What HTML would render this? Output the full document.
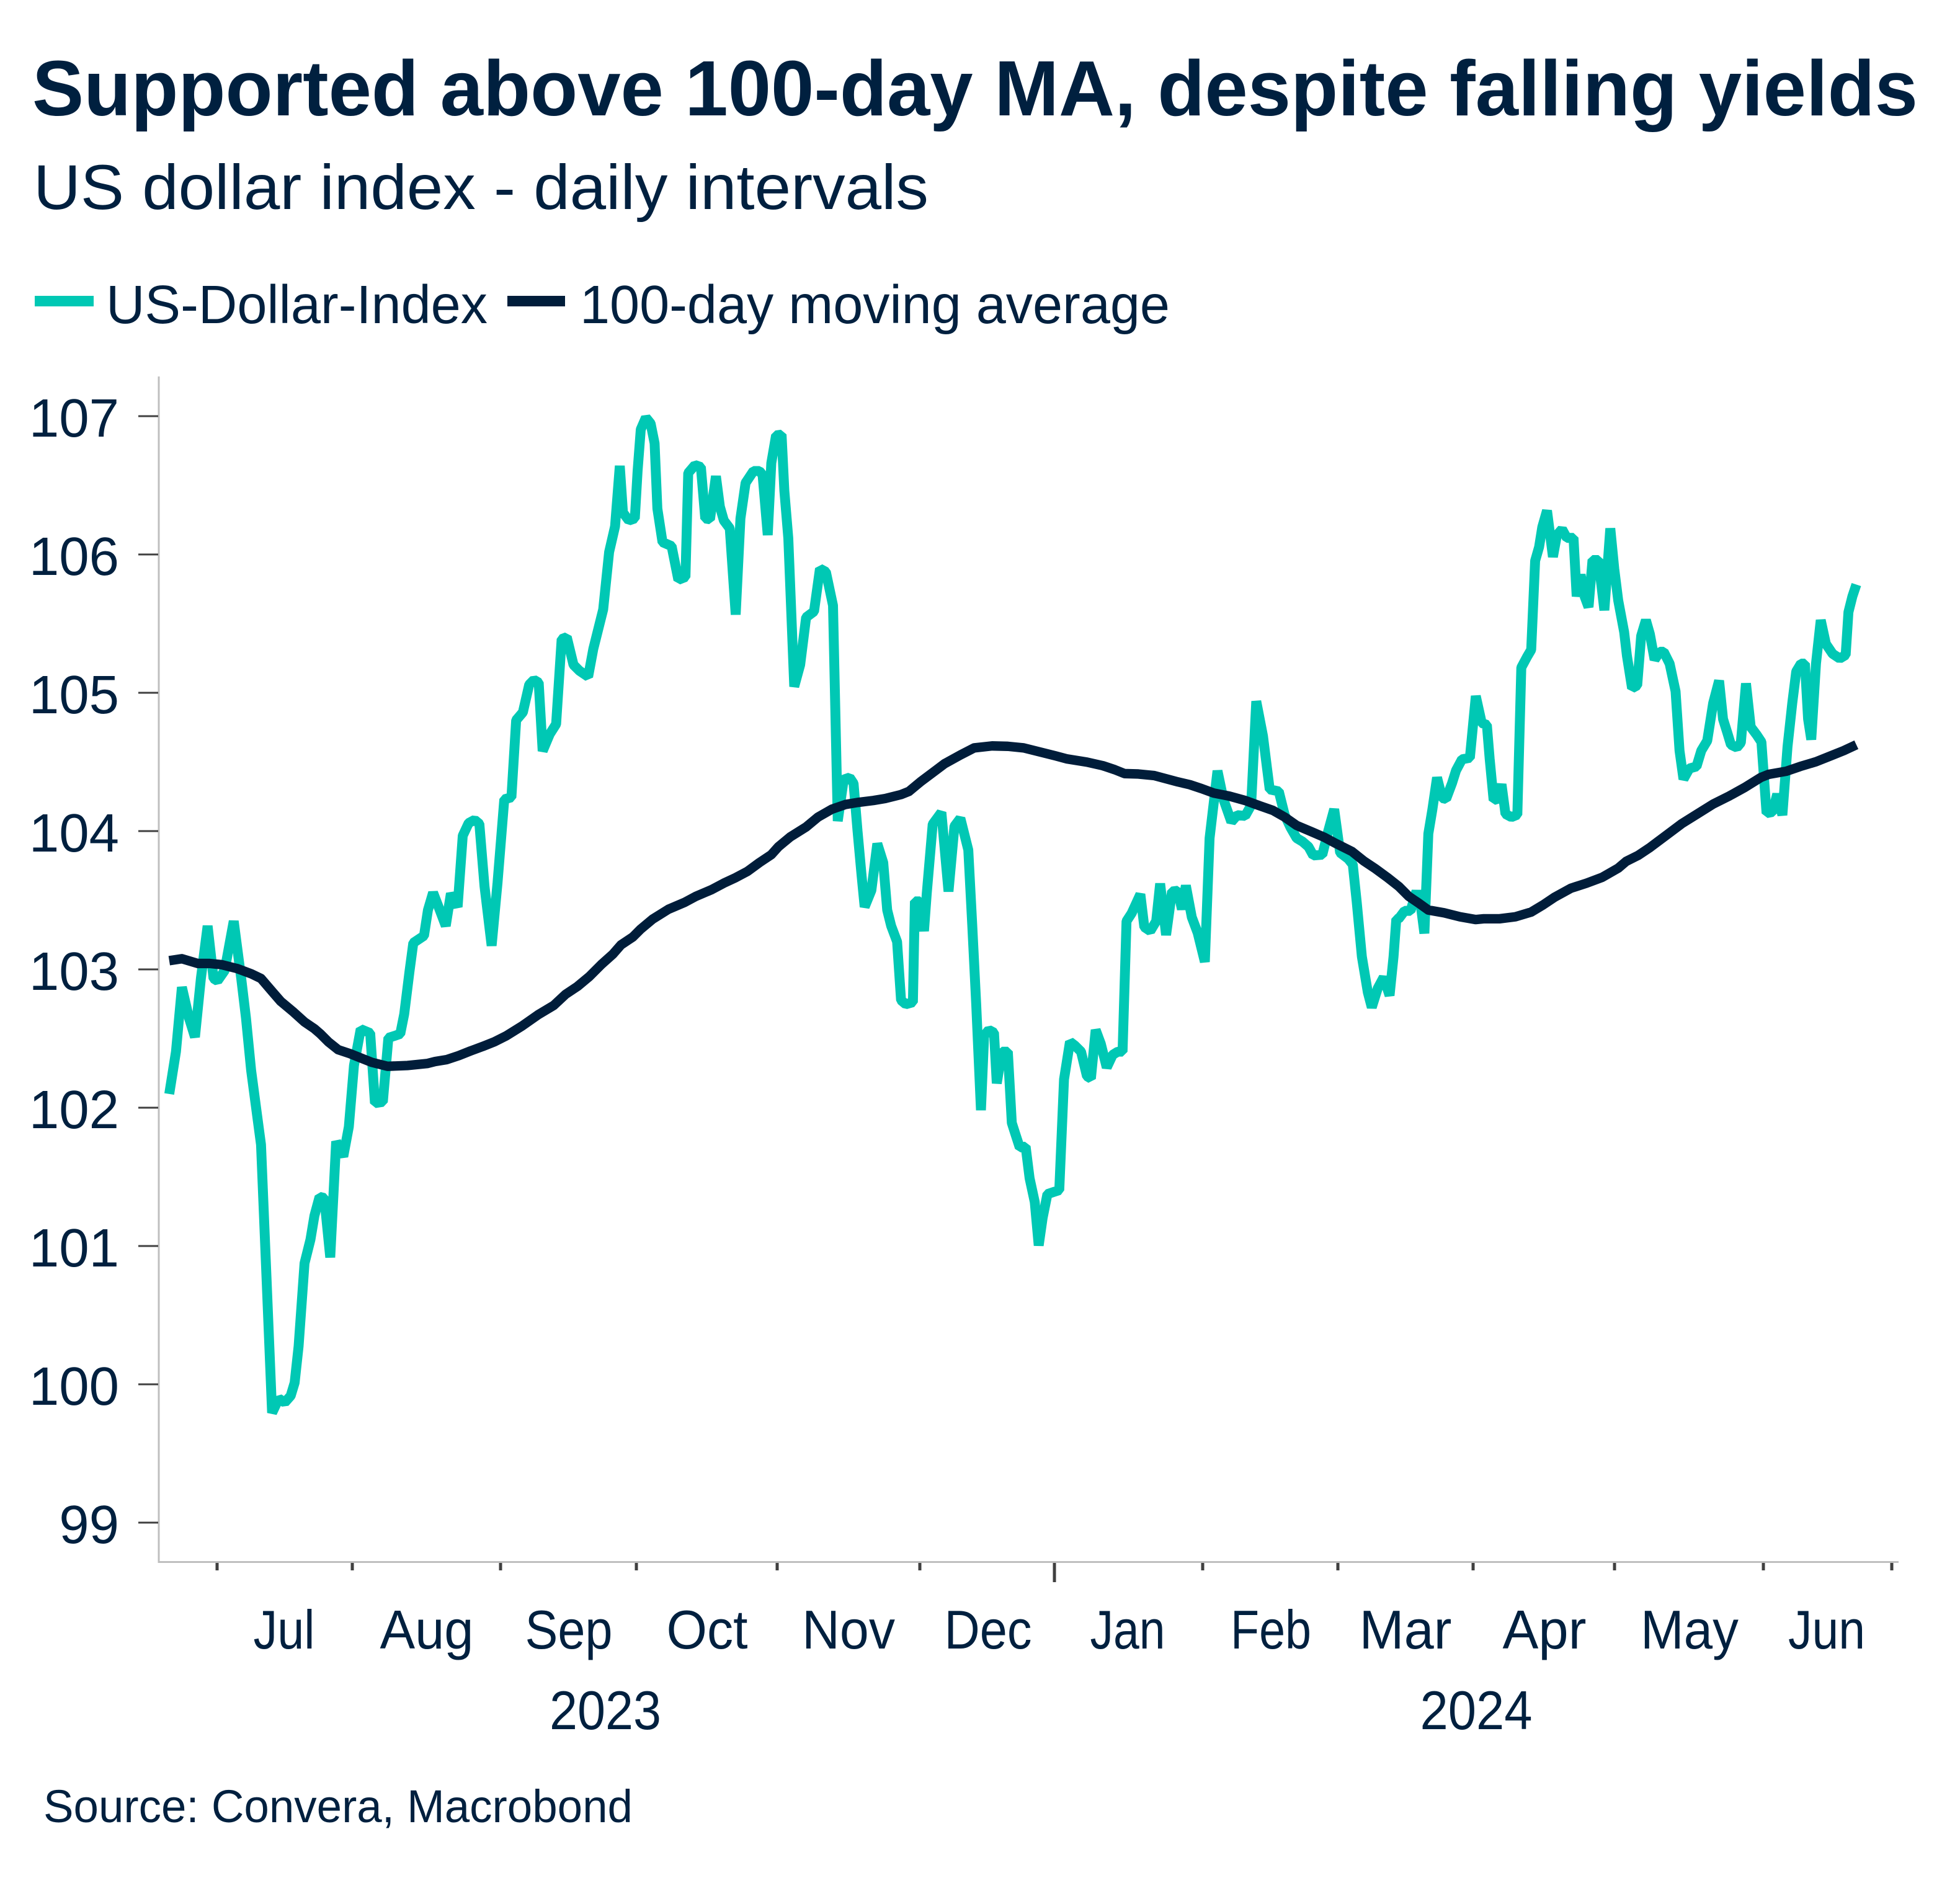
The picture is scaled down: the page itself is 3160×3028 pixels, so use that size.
<!DOCTYPE html>
<html>
<head>
<meta charset="utf-8">
<style>
html,body{margin:0;padding:0;background:#fff;}
svg{display:block;}
text{font-family:"Liberation Sans","DejaVu Sans",sans-serif;fill:#00203F;}
</style>
</head>
<body>
<svg width="3160" height="3028" viewBox="0 0 3160 3028" xmlns="http://www.w3.org/2000/svg">
<rect x="0" y="0" width="3160" height="3028" fill="#ffffff"/>

<!-- Title / subtitle -->
<text x="52" y="186" font-size="126" font-weight="bold" textLength="3040" lengthAdjust="spacingAndGlyphs">Supported above 100-day MA, despite falling yields</text>
<text x="54" y="337" font-size="102" textLength="1443" lengthAdjust="spacingAndGlyphs">US dollar index - daily intervals</text>

<!-- Legend -->
<rect x="56" y="477" width="95" height="17" fill="#00C8B4"/>
<text x="171" y="521" font-size="87" textLength="615" lengthAdjust="spacingAndGlyphs">US-Dollar-Index</text>
<rect x="818" y="477" width="93" height="17" fill="#001D3A"/>
<text x="935" y="521" font-size="87" textLength="951" lengthAdjust="spacingAndGlyphs">100-day moving average</text>

<!-- Axes -->
<line x1="256" y1="607" x2="256" y2="2520" stroke="#BFBFBF" stroke-width="3"/>
<line x1="255" y1="2518.5" x2="3061" y2="2518.5" stroke="#BFBFBF" stroke-width="3"/>

<!-- Y ticks -->
<g stroke="#404040" stroke-width="3">
<line x1="223" y1="671" x2="255" y2="671"/>
<line x1="223" y1="894" x2="255" y2="894"/>
<line x1="223" y1="1117" x2="255" y2="1117"/>
<line x1="223" y1="1340" x2="255" y2="1340"/>
<line x1="223" y1="1563" x2="255" y2="1563"/>
<line x1="223" y1="1786" x2="255" y2="1786"/>
<line x1="223" y1="2009" x2="255" y2="2009"/>
<line x1="223" y1="2232" x2="255" y2="2232"/>
<line x1="223" y1="2455" x2="255" y2="2455"/>
</g>
<g font-size="87" text-anchor="end">
<text x="192" y="704">107</text>
<text x="192" y="927">106</text>
<text x="192" y="1150">105</text>
<text x="192" y="1373">104</text>
<text x="192" y="1596">103</text>
<text x="192" y="1819">102</text>
<text x="192" y="2042">101</text>
<text x="192" y="2265">100</text>
<text x="192" y="2488">99</text>
</g>

<!-- X ticks -->
<g stroke="#404040" stroke-width="5">
<line x1="350" y1="2520" x2="350" y2="2532"/>
<line x1="568" y1="2520" x2="568" y2="2532"/>
<line x1="807" y1="2520" x2="807" y2="2532"/>
<line x1="1026" y1="2520" x2="1026" y2="2532"/>
<line x1="1253" y1="2520" x2="1253" y2="2532"/>
<line x1="1483" y1="2520" x2="1483" y2="2532"/>
<line x1="1700" y1="2520" x2="1700" y2="2551"/>
<line x1="1939" y1="2520" x2="1939" y2="2532"/>
<line x1="2157" y1="2520" x2="2157" y2="2532"/>
<line x1="2375" y1="2520" x2="2375" y2="2532"/>
<line x1="2603" y1="2520" x2="2603" y2="2532"/>
<line x1="2843" y1="2520" x2="2843" y2="2532"/>
<line x1="3050" y1="2520" x2="3050" y2="2532"/>
</g>
<g font-size="88" text-anchor="middle">
<text x="458" y="2658" textLength="99" lengthAdjust="spacingAndGlyphs">Jul</text>
<text x="688" y="2658" textLength="151" lengthAdjust="spacingAndGlyphs">Aug</text>
<text x="917" y="2658" textLength="141" lengthAdjust="spacingAndGlyphs">Sep</text>
<text x="1140" y="2658" textLength="131" lengthAdjust="spacingAndGlyphs">Oct</text>
<text x="1368" y="2658" textLength="150" lengthAdjust="spacingAndGlyphs">Nov</text>
<text x="1593" y="2658" textLength="141" lengthAdjust="spacingAndGlyphs">Dec</text>
<text x="1818" y="2658" textLength="121" lengthAdjust="spacingAndGlyphs">Jan</text>
<text x="2049" y="2658" textLength="130" lengthAdjust="spacingAndGlyphs">Feb</text>
<text x="2266" y="2658" textLength="149" lengthAdjust="spacingAndGlyphs">Mar</text>
<text x="2490" y="2658" textLength="135" lengthAdjust="spacingAndGlyphs">Apr</text>
<text x="2724" y="2658" textLength="158" lengthAdjust="spacingAndGlyphs">May</text>
<text x="2945" y="2658" textLength="124" lengthAdjust="spacingAndGlyphs">Jun</text>
<text x="976" y="2788" textLength="180" lengthAdjust="spacingAndGlyphs">2023</text>
<text x="2380" y="2788" textLength="181" lengthAdjust="spacingAndGlyphs">2024</text>
</g>

<text x="70" y="2938" font-size="74" textLength="950" lengthAdjust="spacingAndGlyphs">Source: Convera, Macrobond</text>

<!-- Series (frame coordinates: origin 255,600; 1.568 units per px) -->
<g transform="translate(255,600) scale(0.637755)" fill="none" stroke-linejoin="bevel">
<polyline stroke="#00C8B4" stroke-width="25" points="
28,1825 45,1718 60,1555 78,1633 93,1681 108,1533 125,1400 140,1533 150,1539 168,1513 191,1388 210,1533 222,1633 235,1765 248,1863 260,1953 288,2631 305,2595 320,2605 335,2588 345,2555 355,2463 370,2253 385,2193 395,2133 408,2085 420,2088 435,2238 450,1945 468,1983 482,1908 495,1753 512,1661 536,1671 548,1848 568,1845 582,1683 598,1678 612,1673 622,1623 635,1518 645,1443
660,1433 672,1425 682,1360 695,1316 710,1355 727,1400 740,1318 757,1352 770,1172 785,1140 800,1132 812,1142 825,1300 843,1450 858,1290 875,1080 893,1075 905,880 922,860 938,790 950,778 962,785 972,958 990,915 1006,890 1020,675 1033,670 1050,740 1065,755 1087,770 1100,700 1125,600 1140,455 1155,390 1167,237 1175,355 1190,375 1205,370 1212,250 1220,145 1233,115 1245,130 1255,180 1262,345 1275,430 1298,440 1315,525 1333,518 1340,255 1357,235 1372,240 1383,370 1395,372 1410,263 1420,340 1430,375 1445,395 1460,613 1472,370 1485,280 1505,250 1520,250 1528,260 1541,412 1550,230 1562,160
1576,158 1583,300 1593,420 1608,795 1623,740 1638,620 1658,605 1673,497 1688,505 1706,590 1718,1135 1733,1030 1748,1025 1758,1040 1768,1160 1778,1270 1786,1352 1803,1310 1818,1192 1833,1240 1843,1360 1853,1400 1868,1440
1878,1588 1890,1598 1908,1593 1913,1338 1926,1338 1936,1413 1943,1318 1958,1143 1980,1113 1998,1313 2013,1148 2028,1128 2048,1208 2058,1398 2068,1598 2080,1866 2088,1678 2100,1663 2113,1670 2120,1798 2133,1718 2148,1718 2158,1898 2166,1923 2178,1960 2193,1958 2203,2038 2216,2098 2226,2208 2236,2138 2248,2078 2263,2073 2278,2068 2290,1788 2305,1693 2318,1703 2333,1718 2348,1780 2358,1786 2370,1663 2383,1698 2398,1758 2413,1726 2426,1718 2438,1718 2448,1388 2461,1368 2483,1320 2493,1403 2508,1413 2523,1388 2533,1293 2548,1423 2563,1313 2578,1311 2588,1358 2598,1298 2613,1378 2628,1418 2646,1491 2658,1178
2678,1008 2693,1080 2713,1137 2728,1120 2748,1122 2763,1095 2776,832 2793,920 2803,1000 2810,1055 2833,1060 2848,1120 2863,1152 2878,1178 2893,1187 2908,1200 2920,1222 2943,1220 2958,1160 2973,1105 2988,1215 3008,1230 3020,1245 3030,1340 3043,1478
3058,1568 3068,1606 3083,1558 3098,1530 3113,1576 3123,1478 3130,1383
3136,1382 3151,1362 3166,1362 3181,1312 3193,1357 3201,1419 3211,1167 3221,1107 3233,1025 3246,1077 3256,1079 3271,1039 3281,1007 3296,979 3316,975 3331,819 3346,887 3359,892 3366,977 3376,1082 3386,1079 3396,1042 3406,1117 3421,1125 3436,1119 3446,747 3461,719 3471,702 3481,477 3491,442 3499,392 3511,350 3526,467 3536,412 3549,397 3561,419 3578,419 3586,567 3596,512 3606,567 3616,594 3626,475 3641,475 3656,602 3671,395 3681,497 3691,577 3706,657 3713,717 3726,799 3739,792 3749,667 3761,627 3771,662 3783,727 3796,707 3806,707 3821,737 3836,807 3846,957 3856,1029 3871,1002 3889,997 3901,957 3916,932 3931,837 3946,780 3956,877 3966,909 3976,942 3991,949 4001,937 4014,787 4026,897 4041,917 4053,935 4066,1115 4081,1112 4093,1067 4106,1120 4119,947 4131,837 4141,757 4153,737 4163,737 4171,877 4179,929 4191,737 4203,627 4216,687 4233,712 4251,724 4266,715 4273,607 4283,567 4293,537"/>
<polyline stroke="#001D3A" stroke-width="24" stroke-linejoin="round" points="
28,1488 60,1483 100,1495 130,1495 160,1498 200,1508 235,1521 260,1533 290,1568 310,1591 340,1616 370,1643 395,1660 410,1673 430,1693 455,1713 485,1723 510,1733 540,1745 580,1755 630,1753 680,1748 700,1743 730,1738 760,1728 790,1716 820,1705 850,1693 880,1678 920,1653 960,1625 1000,1601 1030,1573 1060,1553 1090,1528 1120,1498 1150,1471 1170,1448 1200,1428 1220,1408 1250,1383 1290,1358 1330,1341
1360,1325 1400,1308 1430,1292 1460,1278 1490,1262 1520,1240 1550,1220
1568,1200 1598,1175 1638,1150 1668,1125 1703,1105 1738,1093 1768,1088 1808,1083 1838,1078 1878,1068 1898,1060 1928,1035 1968,1005 1988,990 2028,968 2063,950 2108,945 2148,946 2188,950 2228,960 2268,970 2298,978 2348,986 2388,995 2418,1005 2443,1015 2478,1016 2518,1020 2548,1028 2578,1036 2608,1043 2638,1053 2668,1064 2708,1072 2748,1083 2778,1094 2818,1108 2848,1125 2878,1146 2918,1163 2948,1176 2978,1192 3018,1212 3048,1236 3078,1256 3108,1278 3136,1300
3161,1325 3186,1342 3211,1360 3251,1367 3291,1377 3331,1384 3351,1382 3391,1382 3431,1377 3471,1365 3501,1347 3531,1327 3571,1305 3611,1292 3651,1277 3691,1254 3711,1237 3741,1222 3771,1202 3811,1172 3851,1142 3891,1117 3931,1092 3971,1072 4011,1050 4051,1025 4071,1017 4116,1009 4151,997 4191,985 4231,969 4261,957 4293,942"/>
</g>
</svg>
</body>
</html>
